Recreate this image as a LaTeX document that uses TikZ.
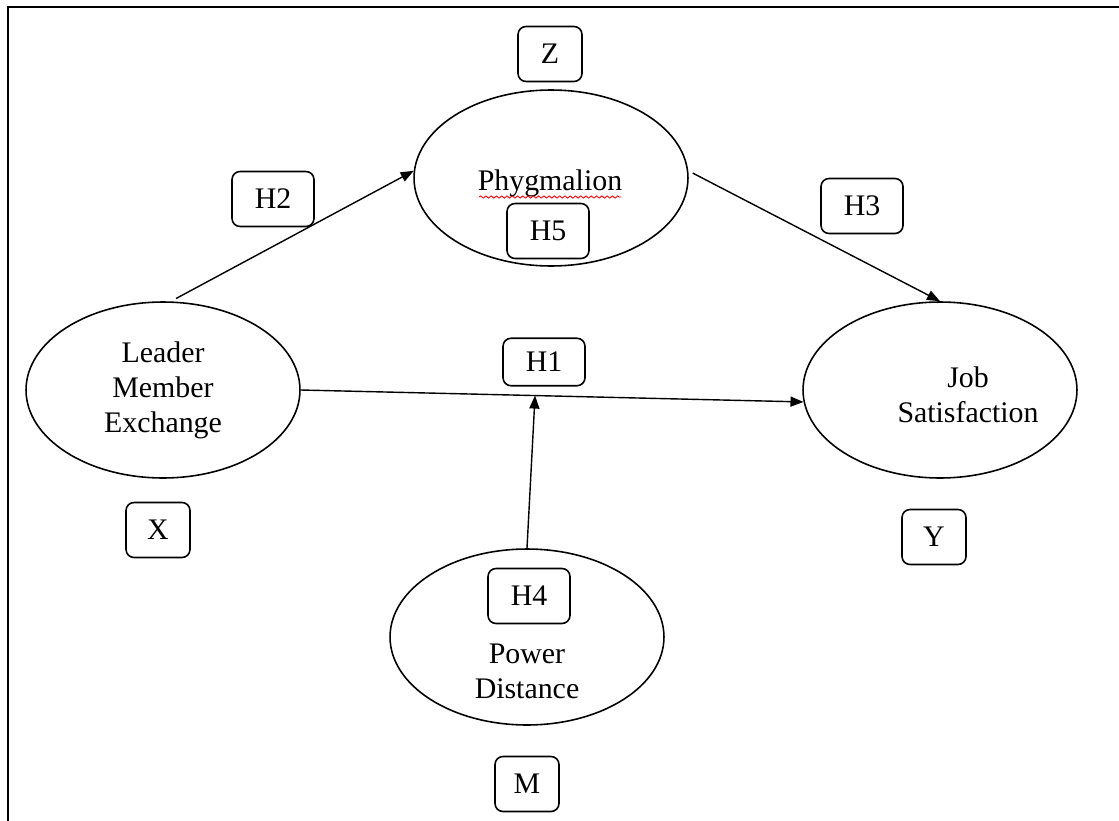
\documentclass[tikz,border=0pt]{standalone}
\usepackage{fontspec}
\setmainfont{Liberation Serif}
\usetikzlibrary{arrows.meta,shapes.geometric,decorations.pathmorphing}

\begin{document}
\begin{tikzpicture}[x=0.02cm,y=-0.02cm]

\tikzset{
construct/.style={ellipse,draw,line width=0.9pt,minimum width=5.48cm,minimum height=3.52cm,inner sep=0pt,align=center},
tag/.style={draw,rounded corners=0.16cm,line width=0.9pt,minimum width=1.28cm,minimum height=1.1cm,inner sep=0pt},
htag/.style={tag,minimum width=1.64cm},
edge/.style={-{Triangle[length=0.26cm,width=0.2cm]},line width=0.8pt},
font={\fontsize{17pt}{20pt}\selectfont}
}
\useasboundingbox (0,0) rectangle (1119,821);

% frame
\draw[line width=1.5pt] (8,821) -- (8,7) -- (1119,7);

% constructs
\node[construct] (lmx)  at (163,390) {Leader\\Member\\Exchange};
\node[construct] (phyg) at (551,178) {};
\node[construct] (job)  at (940,390) {};
\node[construct] (pd)   at (527,637) {};

% construct names
\node (phygtext) at (550,183) {Phygmalion};
\node[align=center] (jobtext) at (968,395) {Job\\Satisfaction};
\node[align=center] (pdtext)  at (527,671) {Power\\Distance};
\draw[red,line width=0.5pt,decorate,decoration={snake,amplitude=0.6pt,segment length=3pt}] (479,197) -- (621,197);

% variables
\node[tag] (z) at (550,54)  {Z};
\node[tag] (x) at (158,530) {X};
\node[tag] (y) at (934,537) {Y};
\node[tag] (m) at (527,784) {M};

% hypotheses
\node[htag,minimum height=0.95cm] (h1) at (544,362) {H1};
\node[htag] (h2) at (273,199) {H2};
\node[htag] (h3) at (862,206) {H3};
\node[htag] (h4) at (529,596) {H4};
\node[htag] (h5) at (548,231) {H5};

%edges
\path (lmx.east) -- coordinate[pos=0.466] (mod) (job.185);
\path[edge]
(lmx.85)   edge[shorten <=0.12cm] (phyg.177)
(phyg.3)   edge[shorten <=0.1cm]  (job.north)
(lmx.east) edge                   (job.185)
(pd.north) edge                   (mod)
;

\end{tikzpicture}
\end{document}
